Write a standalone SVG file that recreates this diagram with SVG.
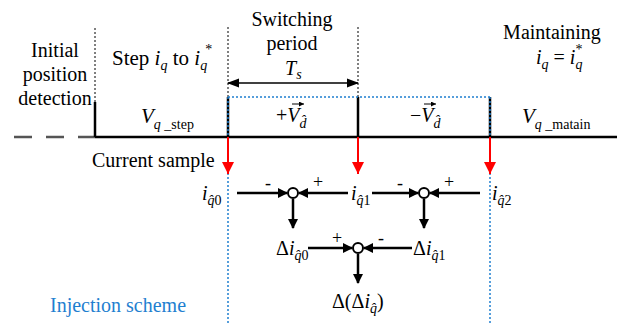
<svg xmlns="http://www.w3.org/2000/svg" width="617" height="325" viewBox="0 0 617 325" font-family="Liberation Serif, DejaVu Serif, serif">
<style>
text{font-family:'Liberation Serif','DejaVu Serif',serif;font-size:20px;fill:#000}
.it{font-style:italic}
.sb{font-size:14px}
.lb{font-size:18px}
.blk{stroke:#000;stroke-width:2.5;fill:none}
.dot{stroke:#000;stroke-width:1;stroke-dasharray:2,2;fill:none}
.bdot{stroke:#1f7fd0;stroke-width:1.5;stroke-dasharray:2,2;fill:none}
.red{stroke:#ff0000;stroke-width:2;fill:none}
.arr{stroke:#000;stroke-width:2.5;fill:none}
.sum{stroke:#000;stroke-width:2;fill:#fff}
</style>
<defs>
<marker id="ah" markerWidth="10" markerHeight="10" refX="9" refY="5" orient="auto" markerUnits="userSpaceOnUse"><path d="M0,0 L10,5 L0,10 Z" fill="#000"/></marker>
<marker id="ahs" markerWidth="12" markerHeight="10" refX="11" refY="5" orient="auto-start-reverse" markerUnits="userSpaceOnUse"><path d="M0,0.5 L12,5 L0,9.5 Z" fill="#000"/></marker>
<marker id="ahr" markerWidth="12" markerHeight="14" refX="12" refY="6" orient="auto" markerUnits="userSpaceOnUse"><path d="M0,0 L12,6 L0,12 Z" fill="#ff0000"/></marker>
<marker id="va" markerWidth="5" markerHeight="5" refX="5" refY="2.5" orient="auto" markerUnits="userSpaceOnUse"><path d="M0,0 L5,2.5 L0,5 Z" fill="#000"/></marker>
</defs>

<g id="timeline">
<path d="M14,137 H95" stroke="#555" stroke-width="2.5" stroke-dasharray="18,14" fill="none"/>
<path class="blk" d="M95,137 H617"/>
<path class="blk" d="M95,102 V137"/>
<path class="blk" d="M228,97 V137"/>
<path class="blk" d="M358,97 V137"/>
<path class="blk" d="M490,97 V137"/>
<path class="dot" d="M95,28 V102"/>
<path class="dot" d="M228,27 V97"/>
<path class="dot" d="M358,27 V97"/>
<path class="bdot" d="M228,97 H490"/>
<path class="bdot" d="M228,97 V325"/>
<path class="bdot" d="M490,97 V325"/>
<path d="M228,83 H358" stroke="#000" stroke-width="1.5" fill="none" marker-start="url(#ahs)" marker-end="url(#ahs)"/>
</g>

<g id="labels">
<text x="55" y="57" text-anchor="middle">Initial</text>
<text x="55" y="81" text-anchor="middle">position</text>
<text x="55" y="105" text-anchor="middle">detection</text>
<text x="112" y="65" style="font-size:21px">Step <tspan class="it">i</tspan><tspan class="it sb" dy="5">q</tspan><tspan dy="-5"> to </tspan><tspan class="it">i</tspan><tspan class="it sb" dy="5">q</tspan><tspan class="sb" dx="-2" dy="-16">*</tspan></text>
<text x="292" y="26" text-anchor="middle">Switching</text>
<text x="292" y="50" text-anchor="middle">period</text>
<text x="285" y="75"><tspan class="it">T</tspan><tspan class="it sb" dy="4">s</tspan></text>
<text x="552" y="39" text-anchor="middle">Maintaining</text>
<text x="536" y="64"><tspan class="it">i</tspan><tspan class="it sb" dy="5">q</tspan><tspan dy="-5"> = </tspan><tspan class="it">i</tspan><tspan class="it sb" dy="5">q</tspan><tspan class="sb" dx="-7" dy="-15">*</tspan></text>
<text x="141" y="123" style="font-size:21px"><tspan class="it">V</tspan><tspan class="it sb" dy="6">q</tspan><tspan class="sb"> _step</tspan></text>
<text x="276" y="122">+<tspan class="it">V</tspan><tspan class="it sb" dy="6">d̂</tspan></text>
<path d="M292,104 H304" stroke="#000" stroke-width="1" marker-end="url(#va)"/>
<text x="410" y="122">−<tspan class="it">V</tspan><tspan class="it sb" dy="6">d̂</tspan></text>
<path d="M424,104 H436" stroke="#000" stroke-width="1" marker-end="url(#va)"/>
<text x="522" y="123" style="font-size:21px"><tspan class="it">V</tspan><tspan class="it sb" dy="6">q</tspan><tspan class="sb"> _matain</tspan></text>
<text x="92" y="167">Current sample</text>
<text x="50" y="312" style="fill:#1f7fd0">Injection scheme</text>
</g>

<g id="samples">
<path class="red" d="M228,137 V174" marker-end="url(#ahr)"/>
<path class="red" d="M358,137 V174" marker-end="url(#ahr)"/>
<path class="red" d="M490,137 V174" marker-end="url(#ahr)"/>
</g>

<g id="node-iq0"><text x="202" y="200"><tspan class="it">i</tspan><tspan class="it sb" dy="5">q̂</tspan><tspan class="sb">0</tspan></text></g>
<g id="node-iq1"><text x="351" y="200"><tspan class="it">i</tspan><tspan class="it sb" dy="5">q̂</tspan><tspan class="sb">1</tspan></text></g>
<g id="node-iq2"><text x="492" y="200"><tspan class="it">i</tspan><tspan class="it sb" dy="5">q̂</tspan><tspan class="sb">2</tspan></text></g>
<g id="node-sum1"><circle class="sum" cx="293" cy="193" r="5"/></g>
<g id="node-sum2"><circle class="sum" cx="424" cy="193" r="5"/></g>
<g id="node-sum3"><circle class="sum" cx="358" cy="248" r="5"/></g>
<g id="node-diq0"><text x="276" y="255">Δ<tspan class="it">i</tspan><tspan class="it sb" dy="5">q̂</tspan><tspan class="sb">0</tspan></text></g>
<g id="node-diq1"><text x="413" y="255">Δ<tspan class="it">i</tspan><tspan class="it sb" dy="5">q̂</tspan><tspan class="sb">1</tspan></text></g>
<g id="node-ddiq"><text x="332" y="308">Δ(Δ<tspan class="it">i</tspan><tspan class="it sb" dy="5">q̂</tspan><tspan dy="-5">)</tspan></text></g>

<g id="connectors">
<path class="arr" d="M237,193 H287" marker-end="url(#ah)"/>
<path class="arr" d="M348,193 H299" marker-end="url(#ah)"/>
<path class="arr" d="M293,199 V228" marker-end="url(#ah)"/>
<path class="arr" d="M372,193 H418" marker-end="url(#ah)"/>
<path class="arr" d="M480,193 H430" marker-end="url(#ah)"/>
<path class="arr" d="M424,199 V228" marker-end="url(#ah)"/>
<path class="arr" d="M308,248 H352" marker-end="url(#ah)"/>
<path class="arr" d="M412,248 H364" marker-end="url(#ah)"/>
<path class="arr" d="M358,254 V283" marker-end="url(#ah)"/>
<text class="lb" x="268" y="189" text-anchor="middle">-</text>
<text class="lb" x="318" y="188" text-anchor="middle">+</text>
<text class="lb" x="400" y="189" text-anchor="middle">-</text>
<text class="lb" x="449" y="188" text-anchor="middle">+</text>
<text class="lb" x="337" y="244" text-anchor="middle">+</text>
<text class="lb" x="381" y="244" text-anchor="middle">-</text>
</g>
</svg>
